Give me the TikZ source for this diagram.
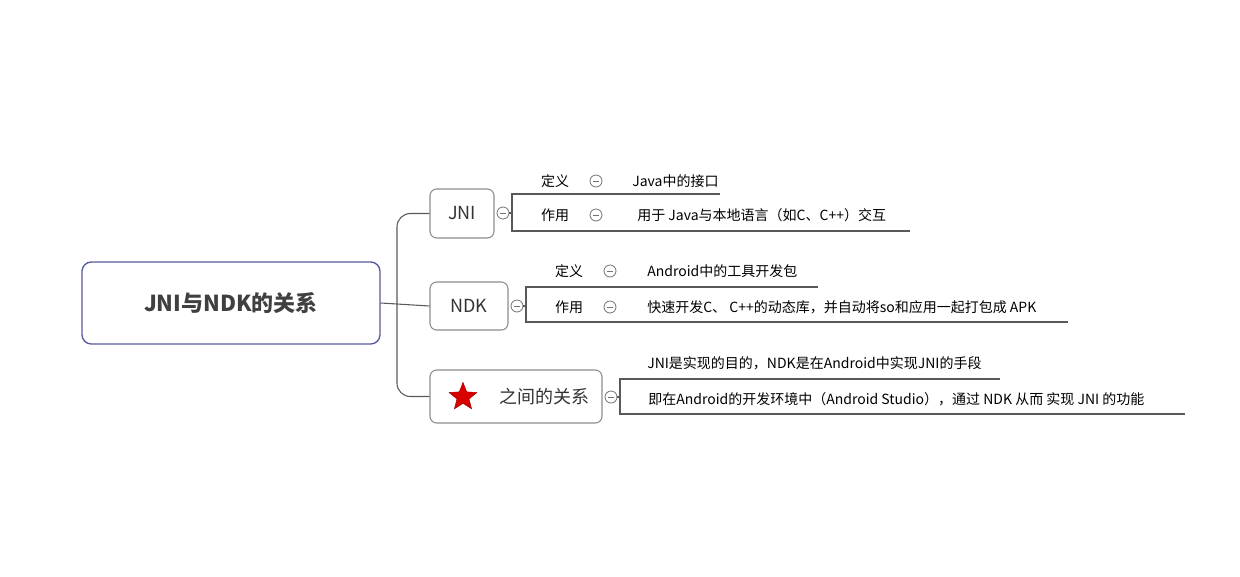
\documentclass[tikz,border=0pt]{standalone}
\usepackage{fontspec}
\setmainfont{Noto Sans CJK SC}
\usetikzlibrary{shapes.geometric}
\begin{document}
\begin{tikzpicture}[x=0.75pt,y=-0.75pt,
  ln/.style={draw=black!65,line width=0.8pt},
  box/.style={draw=black!45,line width=0.8pt,rounded corners=5pt,fill=white,inner sep=0pt,font=\fontsize{13.5}{15}\selectfont,text=black!80},
  txt/.style={anchor=west,inner sep=0pt,font=\fontsize{10.5}{12}\selectfont,text=black},
  lab/.style={inner sep=0pt,font=\fontsize{10.5}{12}\selectfont,text=black},
  coll/.style={circle,draw=black!55,line width=0.6pt,minimum size=9pt,inner sep=0pt,fill=white}]
\useasboundingbox (0,0) rectangle (1240,576);
% nodes
\node[draw=black!10!blue!30!gray,line width=1pt,rounded corners=7pt,minimum width=298*0.75pt,minimum height=82*0.75pt,font=\bfseries\fontsize{16.5}{18}\selectfont,text=black!75] (root) at (231,303) {JNI与NDK的关系};
\node[box,minimum width=64*0.75pt,minimum height=49*0.75pt] (jni) at (462,213.5) {JNI};
\node[box,minimum width=78*0.75pt,minimum height=48*0.75pt] (ndk) at (469,306) {NDK};
\node[box,minimum width=172*0.75pt,minimum height=53*0.75pt] (rel) at (516,396.5) {\hspace*{42pt}之间的关系};
\node[star,star points=5,star point ratio=2.3,fill=red!85!black,draw=red!60!black,line width=0.3pt,minimum size=22pt,inner sep=0pt] (st) at (463,397) {};
% trunk
\coordinate (t) at (397,303);
\draw[ln] (root.east) -- (ndk.west);
\draw[ln,rounded corners=10pt] (jni.west) -| (t) |- (rel.west);
% collapse
\foreach \n/\x/\y in {cj/503/213, cn/517/306, cr/611/397, c1/596/181, c2/596/215, c3/610/271, c4/610/307}{
  \node[coll] (\n) at (\x,\y) {};
  \draw[black!55,line width=0.6pt] ([xshift=-2.5pt]\n.center) -- ([xshift=2.5pt]\n.center);
}
% JNI branch
\coordinate (a1) at (512,194); \coordinate (a1e) at (720,194);
\coordinate (a2) at (512,231); \coordinate (a2e) at (910,231);
\draw[ln] (cj) -- (512,213);
\draw[ln] (a1e) -- (a1) -- (a2) -- (a2e);
\node[lab] (l1) at (555,181) {定义};
\node[lab] (l2) at (555,215) {作用};
\node[txt] (v1) at (632,181) {Java中的接口};
\node[txt] (v2) at (637,215) {用于 Java与本地语言（如C、C++）交互};
% NDK branch
\coordinate (b1) at (526,287); \coordinate (b1e) at (818,287);
\coordinate (b2) at (526,322); \coordinate (b2e) at (1068,322);
\draw[ln] (cn) -- (526,306);
\draw[ln] (b1e) -- (b1) -- (b2) -- (b2e);
\node[lab] (l3) at (569,271) {定义};
\node[lab] (l4) at (569,307) {作用};
\node[txt] (v3) at (647,271) {Android中的工具开发包};
\node[txt] (v4) at (647,307) {快速开发C、 C++的动态库，并自动将so和应用一起打包成 APK};
% relation branch
\coordinate (r1) at (620,379); \coordinate (r1e) at (1000,379);
\coordinate (r2) at (620,414); \coordinate (r2e) at (1185,414);
\draw[ln] (cr) -- (620,397);
\draw[ln] (r1e) -- (r1) -- (r2) -- (r2e);
\node[txt] (v5) at (647,363) {JNI是实现的目的，NDK是在Android中实现JNI的手段};
\node[txt] (v6) at (648,399) {即在Android的开发环境中（Android Studio），通过 NDK 从而 实现 JNI 的功能};
\end{tikzpicture}
\end{document}
